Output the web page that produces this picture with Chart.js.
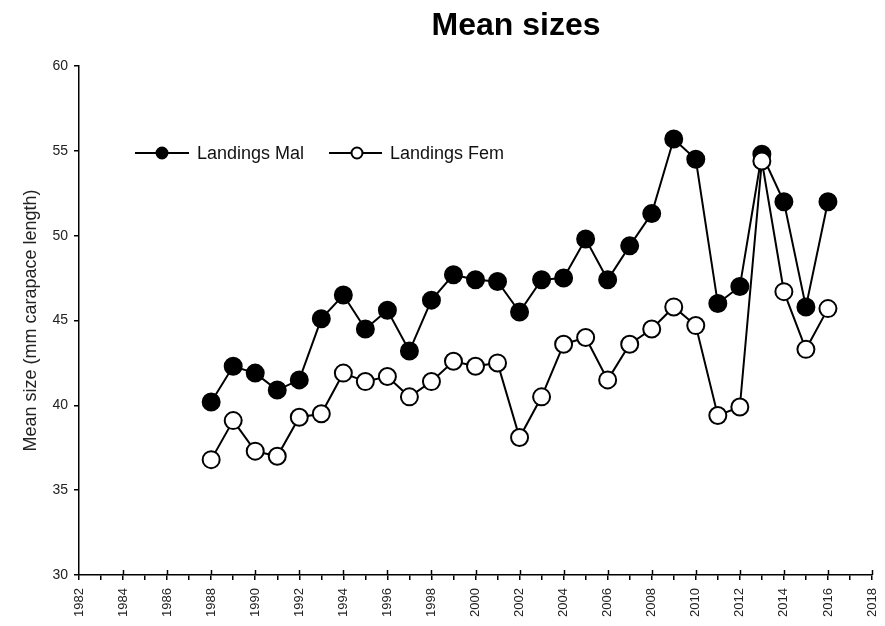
<!DOCTYPE html>
<html>
<head>
<meta charset="utf-8">
<title>Mean sizes</title>
<script src="https://cdn.jsdelivr.net/npm/chart.js@4"></script>
<style>
  html, body { margin: 0; padding: 0; background: #fff; }
  #wrap { width: 885px; height: 626px; }
</style>
</head>
<body>
<div id="wrap"><canvas id="sizeChart" width="885" height="626"></canvas></div>
<script>
// yearly mean carapace length of landed lobsters (mm)
const years = [1988, 1989, 1990, 1991, 1992, 1993, 1994, 1995, 1996, 1997,
  1998, 1999, 2000, 2001, 2002, 2003, 2004, 2005, 2006, 2007,
  2008, 2009, 2010, 2011, 2012, 2013, 2014, 2015, 2016];
const landingsMal = [40.2, 42.3, 41.9, 40.9, 41.5, 45.1, 46.5, 44.5, 45.6, 43.2,
  46.2, 47.7, 47.4, 47.3, 45.5, 47.4, 47.5, 49.8, 47.4, 49.4,
  51.3, 55.7, 54.5, 46.0, 47.0, 54.8, 52.0, 45.8, 52.0];
const landingsFem = [36.8, 39.1, 37.3, 37.0, 39.3, 39.5, 41.9, 41.4, 41.7, 40.5,
  41.4, 42.6, 42.3, 42.5, 38.1, 40.5, 43.6, 44.0, 41.5, 43.6,
  44.5, 45.8, 44.7, 39.4, 39.9, 54.4, 46.7, 43.3, 45.7];
const seriesNames = ["Landings Mal", "Landings Fem"];
const yTicks = [30, 35, 40, 45, 50, 55, 60];

const toPoints = (vals) => vals.map((v, i) => ({ x: years[i], y: v }));

// title, legend and the upper half of the year ticks
const decorations = {
  id: "decorations",
  afterDraw(chart) {
    const ctx = chart.ctx;
    const area = chart.chartArea;
    const xs = chart.scales.x;
    ctx.save();

    ctx.fillStyle = "#000";
    ctx.font = "bold 32px Arial, 'Liberation Sans', sans-serif";
    ctx.textAlign = "center";
    ctx.textBaseline = "middle";
    ctx.fillText("Mean sizes", 516, 26);

    ctx.strokeStyle = "#000";
    ctx.lineWidth = 1.5;
    for (let yr = 1984; yr <= 2018; yr += 2) {
      const px = Math.round(xs.getPixelForValue(yr)) + 0.5;
      ctx.beginPath();
      ctx.moveTo(px, area.bottom);
      ctx.lineTo(px, area.bottom - 5);
      ctx.stroke();
    }

    const items = [
      { x0: 135, x1: 189, mx: 162, tx: 197, fill: "#000", text: seriesNames[0] },
      { x0: 329, x1: 382, mx: 357, tx: 390, fill: "#fff", text: seriesNames[1] }
    ];
    const ly = 153;
    ctx.font = "18px Arial, 'Liberation Sans', sans-serif";
    ctx.textAlign = "left";
    items.forEach((it) => {
      ctx.lineWidth = 2;
      ctx.beginPath();
      ctx.moveTo(it.x0, ly);
      ctx.lineTo(it.x1, ly);
      ctx.stroke();
      ctx.beginPath();
      ctx.arc(it.mx, ly, 5.5, 0, Math.PI * 2);
      ctx.fillStyle = it.fill;
      ctx.fill();
      ctx.stroke();
      ctx.fillStyle = "#111";
      ctx.fillText(it.text, it.tx, ly + 1);
    });
    ctx.restore();
  }
};

const ctx = document.getElementById("sizeChart").getContext("2d");
new Chart(ctx, {
  type: "line",
  data: {
    datasets: [
      {
        label: seriesNames[0],
        data: toPoints(landingsMal),
        borderColor: "#000",
        borderWidth: 2,
        pointRadius: 8.5,
        pointBorderWidth: 2,
        pointBackgroundColor: "#000",
        pointBorderColor: "#000",
        tension: 0,
        order: 2
      },
      {
        label: seriesNames[1],
        data: toPoints(landingsFem),
        borderColor: "#000",
        borderWidth: 2,
        pointRadius: 8.5,
        pointBorderWidth: 2,
        pointBackgroundColor: "#fff",
        pointBorderColor: "#000",
        tension: 0,
        order: 1
      }
    ]
  },
  options: {
    responsive: false,
    animation: false,
    layout: { padding: { left: 0, right: 13, top: 66, bottom: 0 } },
    plugins: {
      legend: { display: false },
      title: { display: false },
      tooltip: { enabled: false }
    },
    scales: {
      x: {
        type: "linear",
        min: 1982,
        max: 2018,
        afterFit: (scale) => {
          scale.height = 51;
          scale.paddingLeft = 0;
          scale.paddingRight = 0;
        },
        border: { display: true, color: "#000", width: 1.5 },
        grid: {
          drawOnChartArea: false,
          drawTicks: true,
          tickLength: 5,
          color: "#000",
          lineWidth: 1.5
        },
        ticks: {
          stepSize: 1,
          autoSkip: false,
          maxRotation: 90,
          minRotation: 90,
          padding: 8,
          color: "#222",
          font: { family: "Arial, 'Liberation Sans', sans-serif", size: 13 },
          callback: (v) => (v % 2 === 0 ? String(v) : "")
        }
      },
      y: {
        min: 30,
        max: 60,
        afterFit: (scale) => { scale.width = 79; },
        afterBuildTicks: (scale) => {
          scale.ticks = yTicks.map((v) => ({ value: v }));
        },
        border: { display: true, color: "#000", width: 1.5 },
        grid: {
          drawOnChartArea: false,
          drawTicks: true,
          tickLength: 5,
          color: "#000",
          lineWidth: 1.5
        },
        ticks: {
          padding: 6,
          color: "#222",
          font: { family: "Arial, 'Liberation Sans', sans-serif", size: 14 }
        },
        title: {
          display: true,
          text: "Mean size (mm carapace length)",
          color: "#222",
          font: { family: "Arial, 'Liberation Sans', sans-serif", size: 18 },
          padding: { top: 20, bottom: 0 }
        }
      }
    }
  },
  plugins: [decorations]
});
</script>
</body>
</html>
